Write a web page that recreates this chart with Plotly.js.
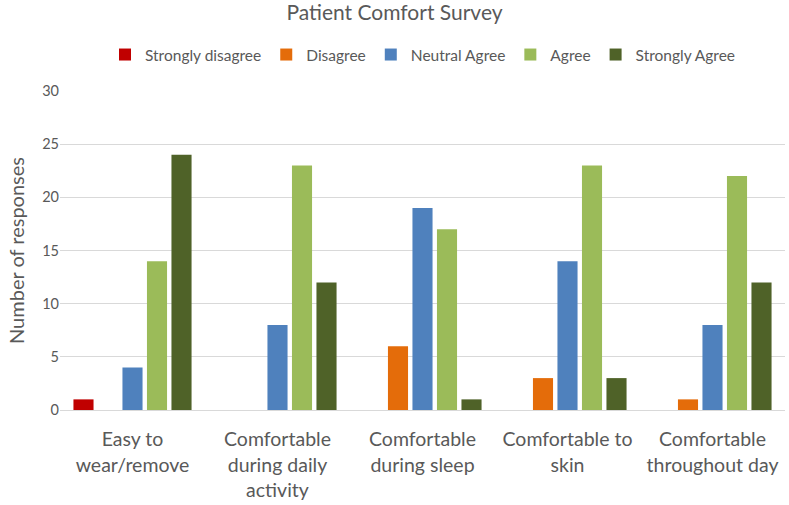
<!DOCTYPE html>
<html><head><meta charset="utf-8">
<script src="https://cdn.plot.ly/plotly-3.0.1.min.js"></script>
<style>html,body{margin:0;padding:0;background:#fff}</style>
</head><body><div id="chart" style="width:789px;height:505px"></div>
<script>
const categories = ["Easy to<br>wear/remove","Comfortable<br>during daily<br>activity","Comfortable<br>during sleep","Comfortable to<br>skin","Comfortable<br>throughout day"];
const seriesNames = ["Strongly disagree","Disagree","Neutral Agree","Agree","Strongly Agree"];
const stronglyDisagree = [1,0,0,0,0];
const disagree = [0,0,6,3,1];
const neutralAgree = [4,8,19,14,8];
const agree = [14,23,17,23,22];
const stronglyAgree = [24,12,1,3,12];
const colors = ["#C00000","#E46C0A","#4F81BD","#9BBB59","#4F6228"];
const values = [stronglyDisagree,disagree,neutralAgree,agree,stronglyAgree];
const data = values.map((v,i)=>({type:"bar",name:seriesNames[i],x:categories,y:v,marker:{color:colors[i]},hoverinfo:"y"}));
const font = "Lato, Carlito, 'Open Sans', sans-serif";
Plotly.newPlot("chart",data,{
  width:789,height:505,
  margin:{l:60,r:4,t:91,b:95},
  font:{family:font,color:"#595959"},
  title:{text:"Patient Comfort Survey",x:0.5,xanchor:"center",y:0.975,yanchor:"middle",font:{size:21,color:"#595959",family:font}},
  legend:{orientation:"h",x:0.5,xanchor:"center",y:1.113,yanchor:"middle",font:{size:15.5,color:"#595959"},traceorder:"normal",itemwidth:30},
  barmode:"group",bargap:0.155,bargroupgap:0.18,
  xaxis:{tickfont:{size:19.5,color:"#595959"},showline:true,linecolor:"#D9D9D9",linewidth:1,ticks:"",ticklabelstandoff:12,fixedrange:true},
  yaxis:{range:[0,30],dtick:5,tickfont:{size:14.5,color:"#595959"},gridcolor:"#D9D9D9",zeroline:false,ticks:"",ticklen:0,
    title:{text:"Number of responses",font:{size:20,color:"#595959"},standoff:12}},
  plot_bgcolor:"#fff",paper_bgcolor:"#fff",showlegend:true
},{displayModeBar:false,staticPlot:true});
</script></body></html>
